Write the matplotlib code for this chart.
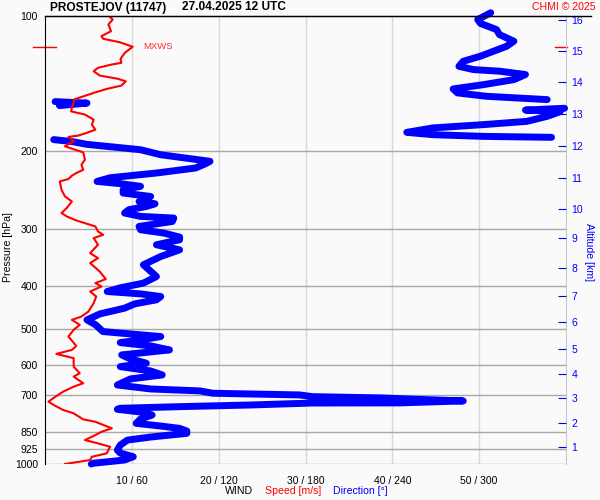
import numpy as np
import matplotlib
matplotlib.use('Agg')
import matplotlib.pyplot as plt
from matplotlib.lines import Line2D
from matplotlib.ticker import NullLocator
import matplotlib.transforms as mtransforms

plt.rcParams['font.family'] = ['Liberation Sans', 'DejaVu Sans']

# pressure axis
p_ticks = [100, 200, 300, 400, 500, 600, 700, 850, 925, 1000]
# wind speed axis (m/s), direction = speed * 6
speed_ticks = [10, 20, 30, 40, 50]
speed_labels = ['10 / 60', '20 / 120', '30 / 180', '40 / 240', '50 / 300']
# altitude km -> pressure level of this sounding
alt_km = list(range(1, 17))
alt_p = [916, 810, 712, 630, 554, 482, 422, 365, 313, 270, 230, 195, 165.4, 141, 119.7, 102.6]

# wind speed profile
speed_p = [100, 102.1, 104.7, 108.4, 111.2, 112.7, 114.7, 117.4, 121.1, 124.9, 127.5, 128.6,
           130.8, 133.1, 136.1, 138.4, 140.2, 143.3, 145.8, 148.8, 154, 156.6, 160.7, 163.6,
           166.3, 170.7, 175.1, 179.7, 182.7, 185.3, 186.5, 190.8, 195.7, 198.1, 201.9, 209.6,
           215.1, 220.8, 224.5, 227.6, 231.5, 234.4, 244.6, 253.2, 259.8, 268.7, 275.7, 280.5,
           286.4, 295.3, 303, 308.3, 313.5, 324.5, 338.7, 347.5, 356.4, 372.2, 387, 395.1,
           402, 412.5, 423.3, 437.9, 457.1, 469, 477.1, 489.5, 502.2, 519.8, 545.4, 556.7,
           568.3, 580.8, 606.6, 627.5, 638.5, 660.6, 672.3, 689.7, 707.7, 726.1, 738.6, 758,
           770.9, 795.1, 805.1, 832.8, 847.5, 862, 884.4, 899.5, 915.3, 947, 963.5, 979.7, 1000]
speed = [7.3, 7.8, 7.3, 7.6, 6.5, 6.7, 8.6, 10.1, 9.2, 8.7, 8.8, 7.7,
         6.1, 5.6, 6.3, 8.4, 9.3, 8.8, 7.1, 5.6, 3.3, 3.3, 3.1, 3.0,
         4.6, 5.6, 5.4, 5.8, 4.8, 3.8, 2.7, 3.3, 2.3, 3.1, 4.4, 4.6,
         4.2, 4.4, 3.6, 3.1, 2.7, 1.7, 1.9, 2.3, 3.1, 2.5, 1.9, 2.5,
         3.6, 5.8, 6.1, 6.7, 5.6, 6.1, 5.2, 6.1, 5.2, 6.3, 7.0, 5.8,
         6.5, 5.2, 5.9, 5.6, 5.0, 4.2, 3.1, 4.0, 3.3, 2.7, 3.6, 3.1,
         1.3, 3.3, 3.3, 4.0, 3.3, 4.4, 3.3, 2.1, 1.2, 0.4, 1.0, 2.1,
         3.3, 4.4, 5.8, 7.7, 6.5, 5.8, 4.6, 6.1, 7.5, 7.1, 5.4, 5.2, 2.3]

# wind direction profile (deg)
dir_p = [98.6, 102.1, 104.2, 107.5, 110.3, 114.1, 117.1, 120.1, 123.2, 126.5, 129.8, 132,
         133.1, 135.4, 139, 142.6, 145.8, 148.8, 151.4, 152.6, 154, 155.6, 156.8, 158.8,
         161, 162.5, 163.8, 167.8, 172.2, 175.1, 178.1, 182.2, 184.4, 186, 186.9, 189.1,
         191.1, 193.8, 197.1, 199.2, 204.4, 211.4, 214, 218.8, 224.5, 230, 234.4, 237.1,
         240.4, 244.6, 248.8, 253.2, 259.8, 262.9, 266.6, 271, 275.7, 280.5, 282.9, 287.9,
         295.3, 300.4, 305.5, 311.9, 316.2, 324.5, 333, 344.6, 359.6, 381.9, 395.1, 404.7,
         412.5, 417.5, 423.3, 430.5, 439.5, 449.3, 462.7, 477.1, 489.5, 506.6, 519.8, 528.8,
         536.2, 545.4, 556.7, 571.2, 583.1, 596.1, 606.6, 620.2, 633, 646.2, 666.5, 680.3,
         687.1, 695.4, 701.5, 707.7, 712.2, 717, 723.3, 730.7, 731.2, 738.6, 745, 751.2,
         755.1, 765.7, 777.6, 793.8, 811.6, 823, 832.8, 844.3, 854.4, 870.7, 884.4, 907.4,
         931.1, 945.5, 963.5, 979.7, 996.5, 1000]
direction = [308, 299, 301, 312, 314, 324, 319, 310, 301, 289, 286, 296,
             314, 332, 324, 303, 282, 285, 305, 324, 347, 7, 29, 10,
             359, 332, 356, 347, 333, 303, 268, 250, 268, 303, 350, 6,
             19, 29, 52, 66, 80, 114, 111, 104, 77, 45, 36, 52,
             66, 54, 54, 73, 65, 76, 70, 58, 55, 66, 89, 88,
             65, 66, 82, 93, 93, 77, 93, 80, 68, 77, 68, 52,
             43, 66, 80, 77, 62, 55, 38, 29, 35, 40, 80, 66,
             52, 73, 86, 53, 59, 70, 52, 73, 81, 59, 50, 73,
             107, 116, 176, 185, 232, 255, 289, 245, 185, 142, 93, 52,
             50, 66, 74, 66, 63, 80, 93, 98, 98, 73, 57, 52,
             50, 52, 61, 55, 33, 32]

fig = plt.figure(figsize=(6, 5), dpi=100, facecolor='#fafafa')
ax = fig.add_axes([45 / 600, 36 / 500, 521 / 600, 448.5 / 500])
ax.set_facecolor('#fafafa')
ax.set_yscale('log')
ax.set_ylim(1000, 100)
ax.set_xlim(0, 60)

for x in speed_ticks:
    ax.axvline(x, color='#d8d8d8', lw=1, zorder=1)
for p in p_ticks[1:]:
    ax.axhline(p, color='#a8a8a8', lw=1, zorder=1)

ax.spines['bottom'].set_visible(False)
ax.spines['right'].set_color('#c8c8c8')
ax.spines['left'].set_color('black')
ax.spines['top'].set_color('black')

ax.yaxis.set_minor_locator(NullLocator())
ax.set_yticks(p_ticks)
ax.set_yticklabels([str(p) for p in p_ticks])
ax.set_xticks(speed_ticks)
ax.set_xticklabels(speed_labels)
ax.tick_params(axis='both', length=0, labelsize=7.5)
ax.tick_params(axis='y', pad=5)
ax.tick_params(axis='x', pad=9)

# direction: break line where it wraps across north
d = np.array(direction, float)
dp = np.array(dir_p, float)
jumps = np.where(np.abs(np.diff(d)) > 180)[0] + 1
ax.plot(np.insert(d / 6.0, jumps, np.nan), np.insert(dp, jumps, np.nan),
        color='#0000ff', lw=5, solid_capstyle='round', solid_joinstyle='round',
        zorder=3, clip_on=False)

ax.plot(speed, speed_p, color='#ff0000', lw=1.5, zorder=4)

# max wind marker
i = int(np.argmax(speed))
trans = mtransforms.blended_transform_factory(ax.transAxes, ax.transData)
ax.plot([-0.023, 0.021], [speed_p[i]] * 2, color='#ff0000', lw=1, transform=trans, clip_on=False)
ax.plot([0.979, 1.002], [speed_p[i]] * 2, color='#ff0000', lw=1, transform=trans, clip_on=False)
ax.text(speed[i] + 1.2, speed_p[i], 'MXWS', color='#ff3030', fontsize=6.8, va='center')

# altitude axis
ax2 = ax.twinx()
ax2.set_yscale('log')
ax2.set_ylim(1000, 100)
ax2.yaxis.set_minor_locator(NullLocator())
ax2.set_yticks(alt_p)
ax2.set_yticklabels([str(k) for k in alt_km])
ax2.tick_params(axis='y', direction='in', length=6, color='#0000ff', labelcolor='#0000ff',
                labelsize=7.5, pad=4)
for s in ax2.spines.values():
    s.set_visible(False)

fig.add_artist(Line2D([45 / 600, 591 / 600], [1 - 15.5 / 500] * 2, color='black', lw=1))

fig.text(50 / 600, 1 - 7.5 / 500, 'PROSTEJOV (11747)', fontsize=8.6, fontweight='bold', va='center')
fig.text(182 / 600, 1 - 7.5 / 500, '27.04.2025 12 UTC', fontsize=8.6, fontweight='bold', va='center')
fig.text(596 / 600, 1 - 7.5 / 500, 'CHMI © 2025', fontsize=7.6, color='#ff0000', ha='right', va='center')

fig.text(8 / 600, 1 - 247 / 500, 'Pressure [hPa]', fontsize=7.6, rotation=90, ha='center', va='center')
fig.text(589 / 600, 1 - 252 / 500, 'Altitude [km]', fontsize=7.6, rotation=270, color='#0000ff',
         ha='center', va='center')

fig.text(225 / 600, 1 - 491 / 500, 'WIND', fontsize=7.6, va='center')
fig.text(265 / 600, 1 - 491 / 500, 'Speed [m/s]', fontsize=7.6, color='#ff0000', va='center')
fig.text(333 / 600, 1 - 491 / 500, 'Direction [°]', fontsize=7.6, color='#0000ff', va='center')

fig.savefig('out.png', dpi=100, facecolor=fig.get_facecolor())
